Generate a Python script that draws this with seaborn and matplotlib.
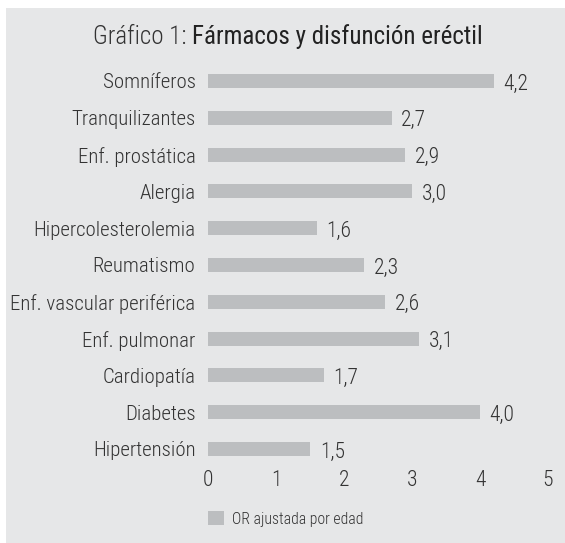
import matplotlib
matplotlib.use("Agg")
import matplotlib.pyplot as plt
import seaborn as sns
import pandas as pd
from matplotlib.patches import Rectangle
from matplotlib import font_manager

categories = ["Somníferos", "Tranquilizantes", "Enf. prostática", "Alergia",
              "Hipercolesterolemia", "Reumatismo", "Enf. vascular periférica",
              "Enf. pulmonar", "Cardiopatía", "Diabetes", "Hipertensión"]
values = [4.2, 2.7, 2.9, 3.0, 1.6, 2.3, 2.6, 3.1, 1.7, 4.0, 1.5]
xticks = [0, 1, 2, 3, 4, 5]
series_name = "OR ajustada por edad"
title_a = "Gráfico 1: "
title_b = "Fármacos y disfunción eréctil"

df = pd.DataFrame({"cat": categories, "val": values})

sns.set_theme(style="white")
fonts = {}
for f in font_manager.fontManager.ttflist:
    fonts.setdefault(f.name, set()).add(f.weight)
prefs = ["Roboto Condensed", "Fira Sans Condensed", "PT Sans Narrow",
         "Archivo Narrow", "Asap Condensed", "Liberation Sans Narrow",
         "Open Sans Condensed", "Roboto", "DejaVu Sans"]
fam = next(p for p in prefs if p in fonts or p == "DejaVu Sans")
W_LIGHT = 300 if 300 in fonts.get(fam, set()) else "normal"
plt.rcParams["font.family"] = [fam, "DejaVu Sans"]

BG = "#e6e7e8"
BAR = "#bcbec0"
TXT = "#333333"

fig = plt.figure(figsize=(5.65, 5.43), dpi=100)
fig.patch.set_facecolor("white")
fig.patches.append(Rectangle((6 / 565, 0), 1 - 6 / 565, 1 - 8 / 543,
                             transform=fig.transFigure, facecolor=BG,
                             edgecolor="none", zorder=-10))

ax = fig.add_axes([208 / 565, 1 - 467.4 / 543, 340 / 565, (467.4 - 62.6) / 543])
ax.set_facecolor("none")
sns.barplot(data=df, x="val", y="cat", color=BAR, width=0.38, ax=ax,
            label=series_name, saturation=1)
for p in ax.patches:
    p.set_edgecolor("none")
ax.set_xlim(0, 5)
ax.set_ylim(len(categories) - 0.5, -0.5)
ax.set_xticks(xticks)
ax.set_xticklabels([str(t) for t in xticks])
ax.set_xlabel("")
ax.set_ylabel("")
for s in ax.spines.values():
    s.set_visible(False)
ax.tick_params(axis="both", length=0, colors=TXT, labelsize=15.5)
ax.tick_params(axis="x", pad=2)
ax.tick_params(axis="y", pad=9, labelsize=15)
for t in ax.get_xticklabels() + ax.get_yticklabels():
    t.set_fontweight(W_LIGHT)

labels = [f"{v:.1f}".replace(".", ",") for v in values]
for t in ax.bar_label(ax.containers[0], labels=labels, padding=7, color=TXT,
                      fontsize=15.5):
    t.set_fontweight(W_LIGHT)
    t.xyann = (t.xyann[0], -2.2)

leg = ax.legend(loc="upper left", bbox_to_anchor=(0, -0.108), frameon=False,
                handlelength=1.0, handleheight=1.0, handletextpad=0.5,
                fontsize=11.3, borderaxespad=0, borderpad=0)
for t in leg.get_texts():
    t.set_color(TXT)
    t.set_fontweight(W_LIGHT)

t1 = fig.text(93 / 565, 1 - 37 / 543, title_a, fontsize=18, color=TXT,
              va="center", ha="left", fontweight=W_LIGHT)
fig.canvas.draw()
bb = t1.get_window_extent(renderer=fig.canvas.get_renderer())
x2 = fig.transFigure.inverted().transform((bb.x1, bb.y0))[0]
fig.text(x2, 1 - 37 / 543, title_b, fontsize=18, color="#222222",
         va="center", ha="left", fontweight="normal")

fig.savefig("out.png", dpi=100, facecolor=fig.get_facecolor())
